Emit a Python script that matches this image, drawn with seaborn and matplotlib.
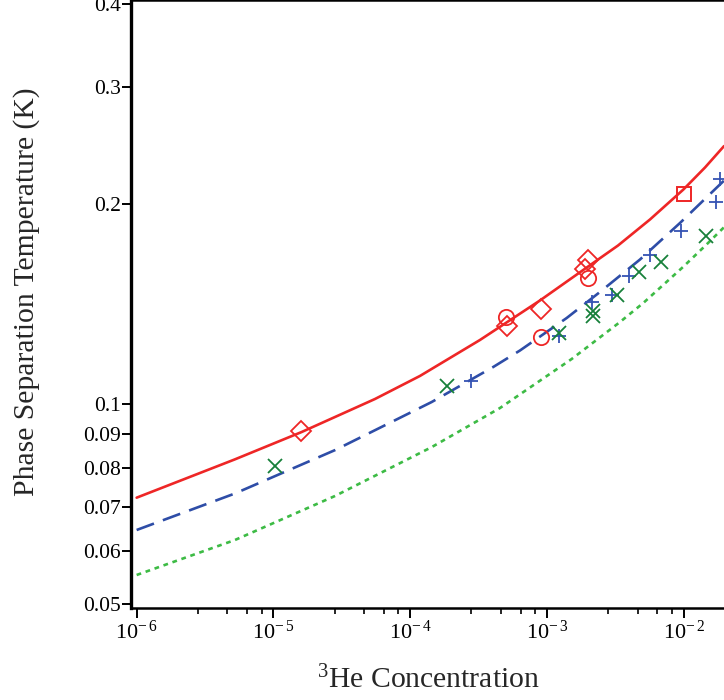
import matplotlib
matplotlib.use("Agg")
import matplotlib.pyplot as plt
import matplotlib.ticker as mticker
import seaborn as sns
import pandas as pd

# --- theory curves (3He concentration, phase separation temperature in K) ---
red_x = [1e-6, 5.232e-6, 1.607e-5, 5.52e-5, 1.177e-4, 3.232e-4, 8.872e-4,
         1.948e-3, 3.299e-3, 5.652e-3, 9.90e-3, 1.4264e-2, 1.9642e-2]
red_y = [0.07228, 0.08255, 0.09075, 0.10175, 0.11021, 0.12485, 0.14316,
         0.16049, 0.17320, 0.18956, 0.21024, 0.22697, 0.24445]

blue_x = [1e-6, 5.232e-6, 2.8153e-5, 1.4334e-4, 4.044e-4, 6.337e-4, 1.3905e-3,
          2.4356e-3, 4.7761e-3, 9.365e-3, 1.7371e-2, 1.9642e-2]
blue_y = [0.06462, 0.07334, 0.08523, 0.10069, 0.11370, 0.12038, 0.13472,
          0.14745, 0.16500, 0.18727, 0.21170, 0.21690]

green_x = [1e-6, 5.232e-6, 2.8153e-5, 1.4334e-4, 4.526e-4, 1.5125e-3, 3.4110e-3,
           5.0497e-3, 9.850e-3, 1.4506e-2, 1.9642e-2]
green_y = [0.05529, 0.06242, 0.07270, 0.08612, 0.09862, 0.11688, 0.13286,
           0.14193, 0.16077, 0.17350, 0.18452]

# --- measurements ---
diamond_x = [1.6e-5, 5.1e-4, 9.1e-4, 1.9e-3, 2.0e-3]
diamond_y = [0.0910, 0.1310, 0.1390, 0.1595, 0.1647]

circle_x = [5.0e-4, 9.0e-4, 2.0e-3]
circle_y = [0.1350, 0.1260, 0.1546]

square_x = [1.0e-2]
square_y = [0.2070]

plus_x = [2.8e-4, 1.22e-3, 2.13e-3, 2.98e-3, 3.97e-3, 5.65e-3, 9.6e-3, 1.72e-2, 1.84e-2]
plus_y = [0.1083, 0.1265, 0.1424, 0.1459, 0.1558, 0.1676, 0.1821, 0.2014, 0.2182]

cross_x = [1.03e-5, 1.85e-4, 1.22e-3, 2.17e-3, 2.17e-3, 3.24e-3, 4.66e-3, 6.75e-3, 1.45e-2]
cross_y = [0.0807, 0.1064, 0.1279, 0.1380, 0.1357, 0.1459, 0.1580, 0.1636, 0.1790]

y_ticks = [0.05, 0.06, 0.07, 0.08, 0.09, 0.1, 0.2, 0.3, 0.4]
y_tick_labels = ["0.05", "0.06", "0.07", "0.08", "0.09", "0.1", "0.2", "0.3", "0.4"]
x_ticks = [1e-6, 1e-5, 1e-4, 1e-3, 1e-2]
x_tick_labels = [r"$\mathregular{10^{-\,6}}$", r"$\mathregular{10^{-\,5}}$",
                 r"$\mathregular{10^{-\,4}}$", r"$\mathregular{10^{-\,3}}$",
                 r"$\mathregular{10^{-\,2}}$"]

RED = "#EE2626"
BLUE = "#2E4DA7"
BLUE_PT = "#3553B3"
GREEN_LINE = "#3DBB45"
GREEN_PT = "#17803A"

sns.set_theme(style="ticks")
plt.rcParams["font.family"] = ["Liberation Serif", "DejaVu Serif"]
plt.rcParams["mathtext.fontset"] = "custom"
plt.rcParams["mathtext.rm"] = "Liberation Serif"
plt.rcParams["mathtext.it"] = "Liberation Serif:italic"

fig = plt.figure(figsize=(7.24, 7.0), dpi=100)
ax = fig.add_axes([0.1809, 0.1314, 0.8191, 0.8686])
ax.set_xscale("log")
ax.set_yscale("log")

def curve(xs, ys, **kw):
    df = pd.DataFrame({"x": xs, "y": ys})
    sns.lineplot(data=df, x="x", y="y", ax=ax, estimator=None, sort=False, **kw)

curve(red_x, red_y, color=RED, linewidth=1.9)
curve(blue_x, blue_y, color=BLUE, linewidth=1.9, dashes=False, linestyle=(0, (7, 3.6)))
curve(green_x, green_y, color=GREEN_LINE, linewidth=1.9, dashes=False, linestyle=(0, (1.8, 1.8)))

def points(xs, ys, marker, color, ms, mew, open_face=True):
    df = pd.DataFrame({"x": xs, "y": ys})
    kw = dict(markerfacecolor="none") if open_face else {}
    sns.lineplot(data=df, x="x", y="y", ax=ax, estimator=None, sort=False,
                 linestyle="none", marker=marker, markersize=ms,
                 markeredgecolor=color, markeredgewidth=mew, color=color, **kw)

points(diamond_x, diamond_y, "D", RED, 9.8, 1.3)
points(circle_x, circle_y, "o", RED, 11.0, 1.3)
points(square_x, square_y, "s", RED, 10.2, 1.4)
points(plus_x, plus_y, "+", BLUE_PT, 10.5, 1.3, open_face=False)
points(cross_x, cross_y, "x", GREEN_PT, 9.5, 1.3, open_face=False)

ax.set_xlim(9.09e-7, 1.964e-2)
ax.set_ylim(0.04931, 0.4056)

ax.xaxis.set_major_locator(mticker.FixedLocator(x_ticks))
ax.xaxis.set_major_formatter(mticker.FixedFormatter(x_tick_labels))
ax.xaxis.set_minor_locator(mticker.LogLocator(base=10, subs=[2.8, 4.6, 6.4, 8.2], numticks=20))
ax.xaxis.set_minor_formatter(mticker.NullFormatter())
ax.yaxis.set_major_locator(mticker.FixedLocator(y_ticks))
ax.yaxis.set_major_formatter(mticker.FixedFormatter(y_tick_labels))
ax.yaxis.set_minor_locator(mticker.NullLocator())

ax.tick_params(axis="x", which="major", direction="out", length=7, width=1.4,
               labelsize=16, pad=2, colors="black")
ax.tick_params(axis="x", which="minor", direction="out", length=4.3, width=1.4)
ax.tick_params(axis="y", which="major", direction="out", length=6.5, width=1.4,
               labelsize=15.5, pad=1, colors="black")
ax.tick_params(top=False, right=False)

for side in ("left", "bottom", "top"):
    ax.spines[side].set_color("black")
ax.spines["left"].set_linewidth(2.4)
ax.spines["bottom"].set_linewidth(1.8)
ax.spines["top"].set_linewidth(1.8)
ax.spines["right"].set_visible(False)

ax.set_xlabel("")
ax.set_ylabel("")
fig.text(0.0373, 0.5836, "Phase Separation Temperature (K)", rotation=90,
         ha="center", va="center", fontsize=21.3)
fig.text(0.591, 0.0171, r"$\mathregular{^{3}}$He Concentration", ha="center",
         va="baseline", fontsize=21.3)

fig.savefig("out.png", dpi=100)
